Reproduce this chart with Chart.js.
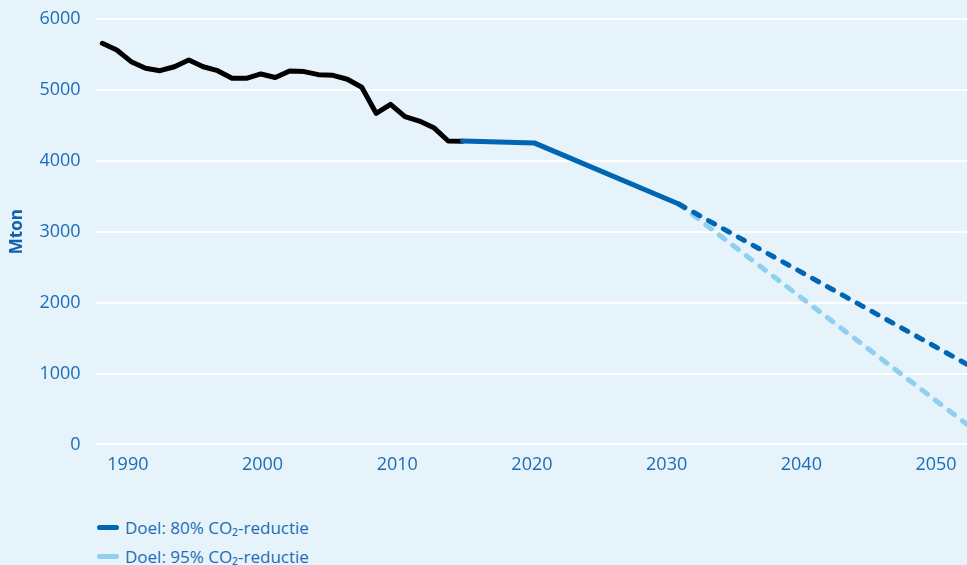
<!DOCTYPE html>
<html>
<head>
<meta charset="utf-8">
<script src="https://cdn.jsdelivr.net/npm/chart.js@4"></script>
<style>
  html, body { margin: 0; padding: 0; background: #e7f3fb; }
  body { width: 967px; height: 565px; overflow: hidden; position: relative; font-family: "Open Sans", sans-serif; }
  #wrap { position: absolute; left: 0; top: 0; width: 967px; height: 478px; }
  #legend { position: absolute; left: 97px; top: 513px; color: #1a6db5; font-size: 17px; }
  .item { display: flex; align-items: center; height: 29px; }
  .swatch { width: 22px; height: 5px; border-radius: 3px; margin-right: 6px; }
</style>
</head>
<body>
<div id="wrap"><canvas id="chart"></canvas></div>
<div id="legend"></div>
<script>
const histYears = [1990, 1991, 1992, 1993, 1994, 1995, 1996, 1997, 1998, 1999, 2000, 2001, 2002,
	2003, 2004, 2005, 2006, 2007, 2008, 2009, 2010, 2011, 2012, 2013, 2014, 2015];
const histMton = [5657, 5563, 5398, 5305, 5271, 5327, 5422, 5327, 5271, 5164, 5164, 5225, 5175,
	5268, 5258, 5215, 5205, 5150, 5037, 4670, 4797, 4622, 4561, 4467, 4279, 4275];

const path80Years = [2015, 2020, 2030, 2050];
const path80Mton = [4280, 4250, 3390, 1130];
const path95Years = [2030, 2050];
const path95Mton = [3390, 283];

const xTickYears = [1990, 2000, 2010, 2020, 2030, 2040, 2050];
const yTicks = [0, 1000, 2000, 3000, 4000, 5000, 6000];

const blueText = '#1a6db5';
const dark = '#0066b3';
const light = '#8fcff0';

const toPoints = (xs, ys) => xs.map((x, i) => ({x: x, y: ys[i]}));

const ctx = document.getElementById("chart").getContext("2d");

const chart = new Chart(ctx, {
	type: "line",
	data: {
		datasets: [
			{
				label: 'Historisch',
				data: toPoints(histYears, histMton),
				borderColor: '#000',
				borderWidth: 5,
				borderJoinStyle: 'round',
				borderCapStyle: 'round',
				pointRadius: 0,
				order: 1,
				inLegend: false,
			},
			{
				label: 'Doel: 80% CO₂-reductie',
				data: toPoints(path80Years, path80Mton),
				borderColor: dark,
				borderWidth: 5,
				borderCapStyle: 'round',
				pointRadius: 0,
				order: 0,
				segment: {
					borderDash: c => c.p0.parsed.x >= 2030 ? [7, 10] : undefined,
				},
			},
			{
				label: 'Doel: 95% CO₂-reductie',
				data: toPoints(path95Years, path95Mton),
				borderColor: light,
				borderWidth: 5,
				borderCapStyle: 'round',
				borderDash: [7, 10],
				pointRadius: 0,
				order: 2,
			}
		],
	},
	options: {
		responsive: true,
		maintainAspectRatio: false,
		animation: false,
		events: [],
		layout: {padding: {top: 19, right: 0, left: 0, bottom: 0}},
		scales: {
			x: {
				type: 'linear',
				min: 1989.53,
				max: 2050,
				display: false,
			},
			x2: {
				type: 'linear',
				position: 'bottom',
				min: 1987.6,
				max: 2052.3,
				grid: {display: false},
				border: {display: false},
				afterBuildTicks: axis => { axis.ticks = xTickYears.map(v => ({value: v})); },
				ticks: {
					color: blueText,
					font: {family: 'Open Sans', size: 18},
					padding: 2,
					maxRotation: 0,
					autoSkip: false,
					callback: v => String(v),
				},
			},
			y: {
				min: 0,
				max: 6000,
				afterBuildTicks: axis => { axis.ticks = yTicks.map(v => ({value: v})); },
				grid: {color: '#ffffff', lineWidth: 2, tickLength: 11, tickColor: 'rgba(0,0,0,0)'},
				border: {display: false},
				ticks: {
					color: blueText,
					font: {family: 'Open Sans', size: 18},
					padding: 4,
					callback: v => String(v),
				},
				title: {
					display: true,
					text: 'Mton',
					color: '#0f62ad',
					font: {family: 'Open Sans', size: 17, weight: 'bold'},
					padding: {top: 7, bottom: 8},
				},
			}
		},
		plugins: {
			legend: {display: false},
			title: {display: false},
			tooltip: {enabled: false},
		},
	}
});

// legend below the chart, built from the datasets
const legendDiv = document.getElementById("legend");
chart.data.datasets.filter(ds => ds.inLegend !== false).forEach(ds => {
	const item = document.createElement("div");
	item.className = "item";
	const sw = document.createElement("span");
	sw.className = "swatch";
	sw.style.background = ds.borderColor;
	const txt = document.createElement("span");
	txt.textContent = ds.label;
	item.appendChild(sw);
	item.appendChild(txt);
	legendDiv.appendChild(item);
});
</script>
</body>
</html>
